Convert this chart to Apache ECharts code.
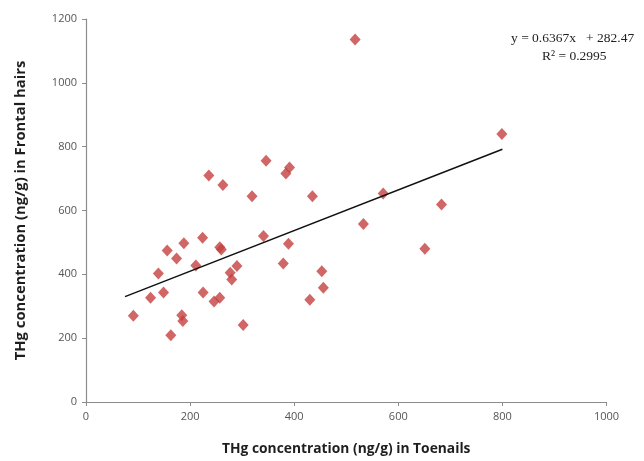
<!DOCTYPE html>
<html>
<head>
<meta charset="utf-8">
<script src="https://cdn.jsdelivr.net/npm/echarts@6/dist/echarts.min.js"></script>
<style>html,body{margin:0;padding:0;background:#fff}#c{width:644px;height:461px}</style>
</head>
<body>
<div id="c"></div>
<script>
const toenails = [517,236,263,346,391,384,319,435,224,188,156,174,257,260,211,341,389,379,290,277,280,139,124,149,225,246,257,91,184,186,163,302,453,456,430,571,533,683,651,799];
const hairs    = [1136,710,680,756,735,716,645,645,515,497,475,450,485,478,428,520,496,434,426,405,384,403,327,343,343,315,327,270,272,254,209,241,410,358,320,653,558,619,480,840];
const slope = 0.6367, intercept = 282.47;
const trendX = [75, 800];
const xTicks = [0,200,400,600,800,1000];
const yTicks = [0,200,400,600,800,1000,1200];

const pts = toenails.map((x,i)=>[x,hairs[i]]);
const trend = trendX.map(x=>[x, slope*x+intercept]);

const chart = echarts.init(document.getElementById('c'));
const axisGray = '#8c8c8c';
chart.setOption({
  animation:false,
  grid:{left:86,right:37.5,top:19,bottom:58},
  xAxis:{type:'value',min:xTicks[0],max:xTicks[xTicks.length-1],interval:200,
    name:'THg concentration (ng/g) in Toenails',nameLocation:'middle',nameGap:40,
    nameTextStyle:{fontFamily:'Open Sans',fontWeight:'bold',fontSize:13.8,color:'#1e1e1e'},
    axisLine:{lineStyle:{color:axisGray,width:1.2}},
    axisTick:{show:true,inside:false,length:4,lineStyle:{color:axisGray}},
    axisLabel:{color:'#555',fontFamily:'Open Sans',fontSize:11,margin:9,formatter:v=>String(v)},
    splitLine:{show:false}},
  yAxis:{type:'value',min:yTicks[0],max:yTicks[yTicks.length-1],interval:200,
    name:'THg concentration (ng/g) in Frontal hairs',nameLocation:'middle',nameGap:58,
    nameTextStyle:{fontFamily:'Open Sans',fontWeight:'bold',fontSize:14.8,color:'#1e1e1e'},
    axisLine:{show:true,lineStyle:{color:axisGray,width:1.2}},
    axisTick:{show:true,inside:false,length:4,lineStyle:{color:axisGray}},
    axisLabel:{color:'#555',fontFamily:'Open Sans',fontSize:11,margin:9,formatter:v=>String(v)},
    splitLine:{show:false}},
  series:[
    {type:'line',data:trend,symbol:'none',lineStyle:{color:'#111',width:1.5},z:3,silent:true},
    {type:'scatter',data:pts,symbol:'diamond',symbolSize:[11,12],itemStyle:{color:'#c4403e'},z:2}
  ],
  graphic:[
    {type:'text',left:511,top:31,style:{text:'y = 0.6367x   + 282.47',font:'13.5px "Liberation Serif"',fill:'#222'}},
    {type:'text',left:542,top:49,style:{text:'R² = 0.2995',font:'13.5px "Liberation Serif"',fill:'#222'}}
  ]
});
</script>
</body>
</html>
